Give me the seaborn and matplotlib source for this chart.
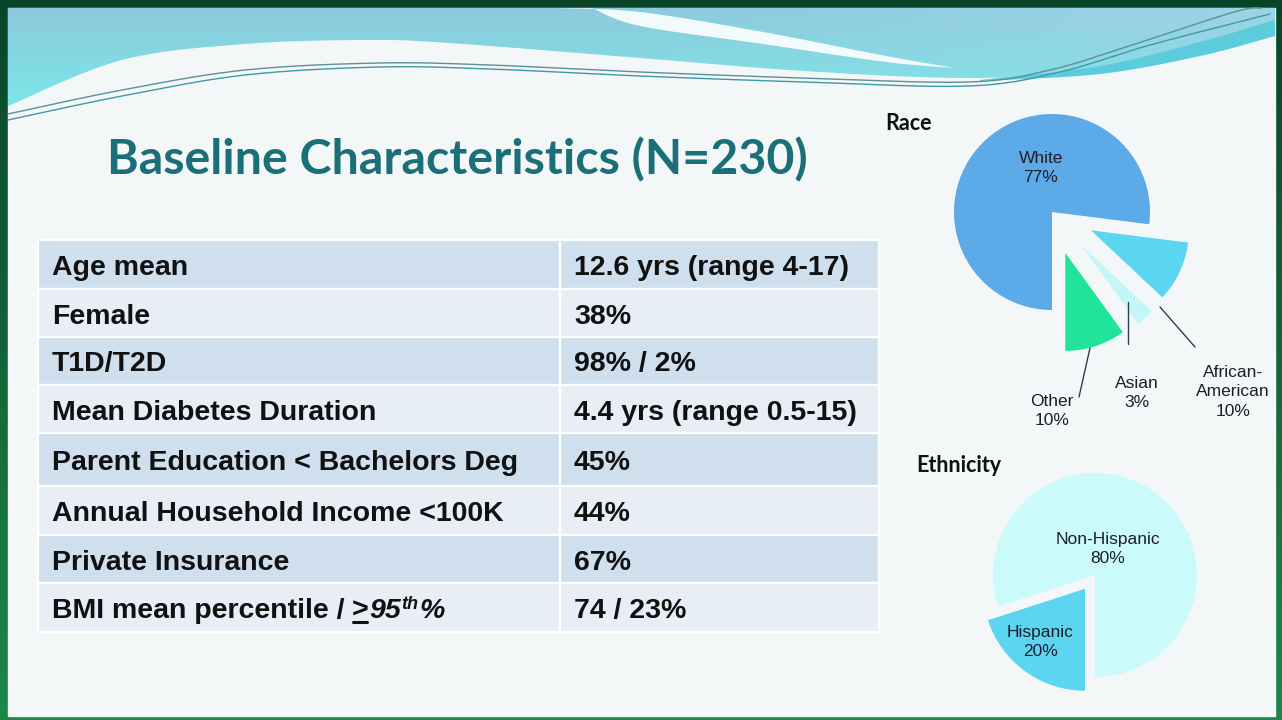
import numpy as np
import matplotlib
matplotlib.use("Agg")
import matplotlib.pyplot as plt
from matplotlib.patches import Rectangle, Polygon
import seaborn as sns

W, H = 1282, 720

# table content
row_labels = ["Age mean", "Female", "T1D/T2D", "Mean Diabetes Duration",
              "Parent Education < Bachelors Deg", "Annual Household Income <100K",
              "Private Insurance", "BMI mean percentile /"]
row_values = ["12.6 yrs (range 4-17)", "38%", "98% / 2%", "4.4 yrs (range 0.5-15)",
              "45%", "44%", "67%", "74 / 23%"]

# pie data
race_labels = ["White", "African-\nAmerican", "Asian", "Other"]
race_pct = [77, 10, 3, 10]
race_colors = ["#5caae8", "#5cd5f1", "#c4f5f7", "#22e39a"]
eth_labels = ["Non-Hispanic", "Hispanic"]
eth_pct = [80, 20]
eth_colors = ["#cafafa", "#5cd5f1"]

sns.set_theme(style="white")
plt.rcParams['font.family'] = ['Liberation Sans', 'DejaVu Sans']

fig = plt.figure(figsize=(W / 100, H / 100), dpi=100)
ax = fig.add_axes([0, 0, 1, 1])


def Y(y):
    return H - y


def smooth(pts, n=24):
    p = np.array(pts, float)
    p = np.vstack([p[0], p, p[-1]])
    out = []
    for i in range(1, len(p) - 2):
        p0, p1, p2, p3 = p[i - 1], p[i], p[i + 1], p[i + 2]
        t = np.linspace(0, 1, n, endpoint=False)[:, None]
        out.append(0.5 * (2 * p1 + (-p0 + p2) * t + (2 * p0 - 5 * p1 + 4 * p2 - p3) * t ** 2
                          + (-p0 + 3 * p1 - 3 * p2 + p3) * t ** 3))
    out.append(p[-2][None, :])
    r = np.vstack(out)
    r[:, 1] = H - r[:, 1]
    return r


# green frame
g = np.linspace(0, 1, 100)[:, None, None]
top_c = np.array([0.04, 0.27, 0.16])
bot_c = np.array([0.11, 0.53, 0.29])
frame = top_c + (bot_c - top_c) * g
frame = np.repeat(frame, 2, axis=1)
ax.imshow(frame, extent=(0, W, 0, H), aspect='auto', zorder=0)

# slide
ax.add_patch(Rectangle((8, Y(716)), 1267, 708, color="#f4f7f7", zorder=1))

# teal wave on top
band = smooth([(8, 106), (122, 60), (245, 44), (367, 40), (449, 43), (640, 58),
               (804, 71), (968, 78), (1091, 71), (1193, 50), (1275, 32)])
band = np.vstack([band, [[1275, Y(8)], [8, Y(8)]]])
band_patch = Polygon(band, closed=True, facecolor='none', edgecolor='none', zorder=2)
ax.add_patch(band_patch)
yy = np.linspace(0, 1, 120)[:, None, None]
xx = np.linspace(0, 1, 256)[None, :, None]
c_top = np.array([0.56, 0.78, 0.86])
c_bot = np.array([0.47, 0.92, 0.92])
c_right = np.array([0.66, 0.86, 0.92])
grad = c_top + (c_bot - c_top) * yy
grad = grad + (c_right - grad) * np.clip((xx - 0.5) * 1.6, 0, 1) * (1 - yy) * 0.8
im = ax.imshow(np.clip(grad, 0, 1), extent=(0, W, Y(120), Y(0)), aspect='auto', zorder=2)
im.set_clip_path(band_patch)

streak = np.vstack([smooth([(555, 8), (640, 12), (763, 32), (886, 56), (955, 68)]),
                    smooth([(955, 68), (886, 62), (763, 44), (640, 26), (592, 8)])])
ax.add_patch(Polygon(streak, closed=True, facecolor="#f2fbfb", edgecolor='none', zorder=3))

dark = np.vstack([smooth([(980, 80), (1100, 66), (1200, 42), (1275, 20)]),
                  smooth([(1275, 36), (1200, 56), (1100, 74), (980, 81)])])
ax.add_patch(Polygon(dark, closed=True, facecolor="#5ccbdc", edgecolor='none', zorder=3))

l1 = smooth([(8, 114), (122, 90), (245, 70), (380, 63), (490, 65), (640, 72), (804, 78),
             (968, 82), (1050, 70), (1132, 45), (1234, 12), (1262, 8)])
l2 = smooth([(8, 120), (122, 96), (245, 75), (380, 67), (490, 69), (640, 76), (804, 82),
             (968, 86), (1060, 72), (1150, 45), (1270, 14)])
ax.plot(l1[:, 0], l1[:, 1], color="#5f8f98", lw=1.0, zorder=4)
ax.plot(l2[:, 0], l2[:, 1], color="#3d9aa8", lw=1.0, zorder=4)

# title
ax.text(457, Y(160), "Baseline Characteristics (N=230)", family=['Lato', 'DejaVu Sans'],
        fontsize=34.8, fontweight='bold', color="#1a6f78", ha='center', va='center', zorder=5)

# table
row_edges = [240, 289, 337, 385, 433, 486, 535, 583, 632]
col_edges = [38, 560, 879]
for i in range(len(row_labels)):
    top, bot = row_edges[i], row_edges[i + 1]
    fc = "#cfdfed" if i % 2 == 0 else "#e7eef6"
    for j in range(2):
        ax.add_patch(Rectangle((col_edges[j], Y(bot)), col_edges[j + 1] - col_edges[j], bot - top,
                               facecolor=fc, edgecolor="white", lw=1.6, zorder=5))
    yb = Y((top + bot) / 2 + 10.5)
    ax.text(52, yb, row_labels[i], fontsize=20.5, fontweight='bold', color="#111111",
            va='baseline', ha='left', zorder=6)
    ax.text(574, yb, row_values[i], fontsize=20.5, fontweight='bold', color="#111111",
            va='baseline', ha='left', zorder=6)

ax.set_xlim(0, W)
ax.set_ylim(0, H)
ax.axis('off')

# BMI row: underlined > and superscript
fig.canvas.draw()
r = fig.canvas.get_renderer()
last = ax.texts[-2]
x0 = last.get_window_extent(r).x1 + 7
yb = last.get_position()[1]
t1 = ax.text(x0, yb, ">", fontsize=20.5, fontweight='bold', color="#111111", va='baseline', zorder=6)
e1 = t1.get_window_extent(r)
ax.plot([e1.x0 + 1, e1.x1 - 1], [yb - 4, yb - 4], color="#111111", lw=2.2, zorder=6)
t2 = ax.text(e1.x1 + 1, yb, "95", fontsize=20.5, fontweight='bold', style='italic',
             color="#111111", va='baseline', zorder=6)
e2 = t2.get_window_extent(r)
t3 = ax.text(e2.x1, yb + 9, "th", fontsize=13, fontweight='bold', style='italic',
             color="#111111", va='baseline', zorder=6)
e3 = t3.get_window_extent(r)
ax.text(e3.x1 + 1, yb, "%", fontsize=20.5, fontweight='bold', style='italic',
        color="#111111", va='baseline', zorder=6)

# race pie (explode is in data units = pixels here)
ax.pie(race_pct, colors=race_colors, startangle=270, counterclock=False,
       explode=[0, 43, 43, 43], center=(1052, Y(212)), radius=98,
       wedgeprops=dict(linewidth=0, zorder=5))
race_pos = [(1041, 168), (1233, 392), (1137, 393), (1052, 411)]
for lab, v, (px, py) in zip(race_labels, race_pct, race_pos):
    ax.text(px, Y(py), f"{lab}\n{v}%", fontsize=12.5, color="#1d1d2b", ha='center',
            va='center', linespacing=1.35, zorder=7)
for (a, b), (c, d) in [((1090, 348), (1079, 397)), ((1128, 302), (1128, 344)),
                       ((1160, 307), (1195, 347))]:
    ax.plot([a, c], [Y(b), Y(d)], color="#2f3f4f", lw=1.0, zorder=7)
ax.text(885, Y(123), "Race", family=['Lato', 'DejaVu Sans'], fontsize=15.5, fontweight='bold',
        color="#111111", ha='left', va='center', zorder=7)

# ethnicity pie
ax.pie(eth_pct, colors=eth_colors, startangle=-90, counterclock=True,
       explode=[0, 17], center=(1095, Y(575)), radius=102,
       wedgeprops=dict(linewidth=0, zorder=5))
eth_pos = [(1108, 549), (1040, 642)]
for lab, v, (px, py) in zip(eth_labels, eth_pct, eth_pos):
    ax.text(px, Y(py), f"{lab}\n{v}%", fontsize=12.5, color="#1d1d2b", ha='center',
            va='center', linespacing=1.35, zorder=7)
ax.text(916, Y(465), "Ethnicity", family=['Lato', 'DejaVu Sans'], fontsize=15.5,
        fontweight='bold', color="#111111", ha='left', va='center', zorder=7)

ax.set_xlim(0, W)
ax.set_ylim(0, H)
ax.set_aspect('auto')
ax.axis('off')

fig.savefig("out.png", dpi=100)
